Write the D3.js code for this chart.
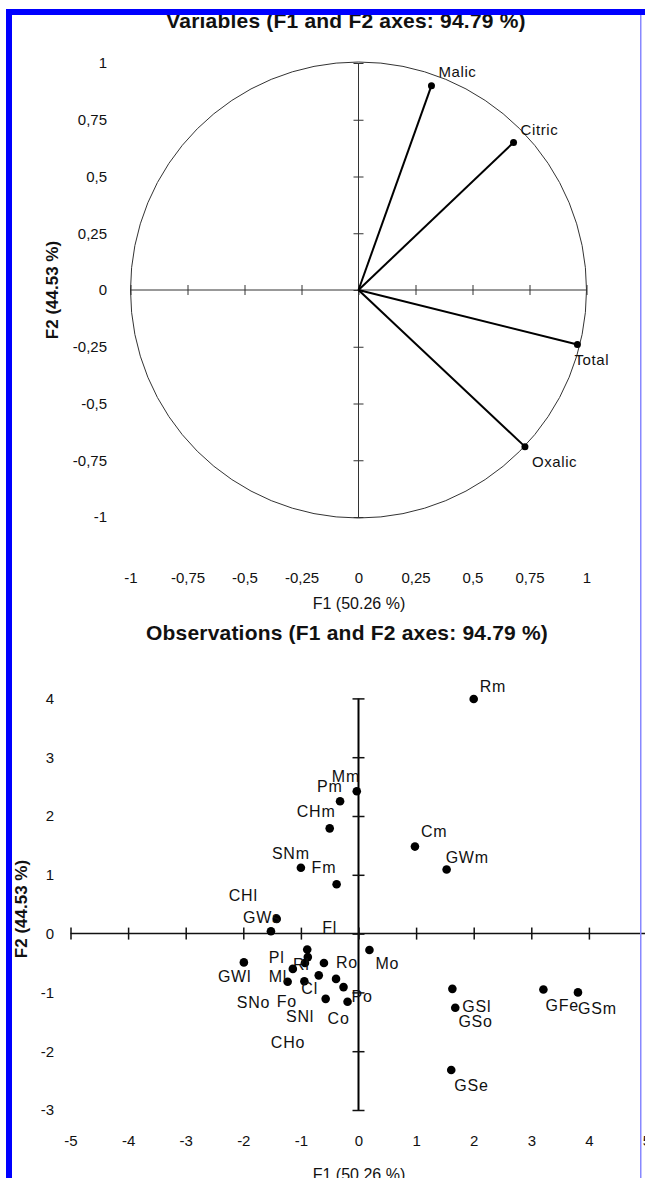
<!DOCTYPE html>
<html>
<head>
<meta charset="utf-8">
<script src="https://cdn.jsdelivr.net/npm/d3@7"></script>
<style>
  html, body { margin: 0; padding: 0; background: #fff; }
  text { font-family: "Liberation Sans", Arial, sans-serif; fill: #111; }
</style>
</head>
<body>
<div id="viz"></div>
<script>

// correlation circle (variables)
var varNames = ["Malic", "Citric", "Total", "Oxalic"];
var varF1 = [0.32, 0.68, 0.96, 0.73];
var varF2 = [0.90, 0.65, -0.24, -0.69];
var circleTicks = [-1, -0.75, -0.5, -0.25, 0, 0.25, 0.5, 0.75, 1];

// observations
var obsNames = ["Rm", "Mm", "Pm", "CHm", "Cm", "GWm", "SNm", "Fm",
    "CHl", "GWs", "Fl", "CHo", "Rl", "Pl", "Ro", "GWl", "Ml", "Cl",
    "SNo", "SNl", "Po", "Fo", "Co", "Mo",
    "GSo", "GSl", "GFe", "GSm", "GSe"];
var obsF1 = [2.00, -0.03, -0.32, -0.50, 0.98, 1.53, -1.00, -0.38,
    -1.42, -1.52, -0.89, -0.88, -0.93, -1.14, -0.60, -1.99, -1.23, -0.94,
    -0.69, -0.39, -0.26, -0.57, -0.19, 0.19,
    1.63, 1.68, 3.21, 3.81, 1.61];
var obsF2 = [3.99, 2.42, 2.25, 1.79, 1.48, 1.09, 1.12, 0.84,
    0.25, 0.04, -0.27, -0.40, -0.50, -0.60, -0.50, -0.49, -0.82, -0.81,
    -0.71, -0.77, -0.91, -1.11, -1.16, -0.28,
    -0.94, -1.26, -0.95, -1.00, -2.32];
var obsXTicks = [-5, -4, -3, -2, -1, 0, 1, 2, 3, 4, 5];
var obsYTicks = [-3, -2, -1, 0, 1, 2, 3, 4];

// label placement (pixels from the point), same order as the names
var varLabelOff = [[7, -9], [7, -7], [-3, 21], [7, 20]];
var obsLabelOff = [[6, -7], [-25, -9], [-23, -9], [-33, -11], [6, -10], [-1, -7], [-29, -9], [-25, -11],
    [-48, -18], [-28, -8], [15, -16], [-37, 91], [-12, 7], [-24, -6], [12, 5], [-26, 20], [-19, 0], [-3, 13],
    [-82, 33], [-50, 43], [8, 15], [-49, 8], [-20, 22], [6, 19],
    [6, 38], [7, 4], [2, 22], [0, 22], [3, 21]];

var W = 645, H = 1178;
var fmt = d3.formatLocale({decimal: ",", thousands: ".", grouping: [3], currency: ["", ""], minus: "-"}).format("");

var svg = d3.select("#viz").append("svg")
    .attr("width", W)
    .attr("height", H);

svg.append("rect").attr("width", W).attr("height", H).attr("fill", "#fff");

// ---------- top: variables ----------
var xv = d3.scaleLinear().domain([-1, 1]).range([130.5, 586.5]);
var yv = d3.scaleLinear().domain([-1, 1]).range([517, 63]);

var gVar = svg.append("g");

gVar.append("text")
    .attr("x", 346).attr("y", 28)
    .attr("text-anchor", "middle")
    .style("font-size", "21px").style("font-weight", "bold").style("letter-spacing", "0.2px")
    .text("Variables (F1 and F2 axes: 94.79 %)");

gVar.append("circle")
    .attr("cx", xv(0)).attr("cy", yv(0))
    .attr("r", xv(1) - xv(0))
    .attr("fill", "none").attr("stroke", "#333").attr("stroke-width", 1);

gVar.append("line")
    .attr("x1", xv(-1)).attr("x2", xv(1))
    .attr("y1", yv(0)).attr("y2", yv(0))
    .attr("stroke", "#333");
gVar.append("line")
    .attr("x1", xv(0)).attr("x2", xv(0))
    .attr("y1", yv(1)).attr("y2", yv(-1))
    .attr("stroke", "#333");

// crossing ticks on both axes
var tx = gVar.append("g").attr("transform", "translate(0," + (yv(0) - 5) + ")")
    .call(d3.axisBottom(xv).tickValues(circleTicks).tickSize(10).tickFormat(""));
var ty = gVar.append("g").attr("transform", "translate(" + (xv(0) + 5) + ",0)")
    .call(d3.axisLeft(yv).tickValues(circleTicks).tickSize(10).tickFormat(""));
[tx, ty].forEach(function(g){
    g.select(".domain").remove();
    g.selectAll("line").attr("stroke", "#333");
});

// tick labels at the plot edges
var lx = gVar.append("g").attr("transform", "translate(0,572)")
    .call(d3.axisBottom(xv).tickValues(circleTicks).tickSize(0).tickPadding(0).tickFormat(fmt));
var ly = gVar.append("g").attr("transform", "translate(107,0)")
    .call(d3.axisLeft(yv).tickValues(circleTicks).tickSize(0).tickPadding(0).tickFormat(fmt));
[lx, ly].forEach(function(g){
    g.select(".domain").remove();
    g.selectAll("text").style("font-size", "15px").style("font-family", "Liberation Sans, Arial, sans-serif").attr("fill", "#111");
});

gVar.append("text")
    .attr("x", 359).attr("y", 609)
    .attr("text-anchor", "middle")
    .style("font-size", "16px")
    .text("F1 (50.26 %)");
gVar.append("text")
    .attr("transform", "translate(58,290) rotate(-90)")
    .attr("text-anchor", "middle")
    .style("font-size", "17px").style("font-weight", "bold")
    .text("F2 (44.53 %)");

var vec = gVar.selectAll("g.vec")
    .data(varNames)
    .enter()
    .append("g").attr("class", "vec");

vec.append("line")
    .attr("x1", xv(0)).attr("y1", yv(0))
    .attr("x2", function(d, i){ return xv(varF1[i]); })
    .attr("y2", function(d, i){ return yv(varF2[i]); })
    .attr("stroke", "#000").attr("stroke-width", 2);
vec.append("circle")
    .attr("cx", function(d, i){ return xv(varF1[i]); })
    .attr("cy", function(d, i){ return yv(varF2[i]); })
    .attr("r", 3.5).attr("fill", "#000");
vec.append("text")
    .attr("x", function(d, i){ return xv(varF1[i]) + varLabelOff[i][0]; })
    .attr("y", function(d, i){ return yv(varF2[i]) + varLabelOff[i][1]; })
    .style("font-size", "15px").style("letter-spacing", "0.6px")
    .text(function(d){ return d; });

// ---------- bottom: observations ----------
var xo = d3.scaleLinear().domain([-5, 5]).range([70.5, 646.5]);
var yo = d3.scaleLinear().domain([-3, 4]).range([1110, 698.4]);

var gObs = svg.append("g");

gObs.append("text")
    .attr("x", 347).attr("y", 640)
    .attr("text-anchor", "middle")
    .style("font-size", "21px").style("font-weight", "bold").style("letter-spacing", "0.2px")
    .text("Observations (F1 and F2 axes: 94.79 %)");

gObs.append("line")
    .attr("x1", xo(-5)).attr("x2", xo(5))
    .attr("y1", yo(0)).attr("y2", yo(0))
    .attr("stroke", "#111").attr("stroke-width", 1.5);
gObs.append("line")
    .attr("x1", xo(0)).attr("x2", xo(0))
    .attr("y1", yo(4)).attr("y2", yo(-3))
    .attr("stroke", "#000").attr("stroke-width", 2);

var bx = gObs.append("g").attr("transform", "translate(0," + (yo(0) - 6) + ")")
    .call(d3.axisBottom(xo).tickValues(obsXTicks).tickSize(12).tickFormat(""));
var by = gObs.append("g").attr("transform", "translate(" + (xo(0) + 6) + ",0)")
    .call(d3.axisLeft(yo).tickValues(obsYTicks).tickSize(12).tickFormat(""));
[bx, by].forEach(function(g){
    g.select(".domain").remove();
    g.selectAll("line").attr("stroke", "#111").attr("stroke-width", 1.5);
});

var blx = gObs.append("g").attr("transform", "translate(0,1135)")
    .call(d3.axisBottom(xo).tickValues(obsXTicks).tickSize(0).tickPadding(0).tickFormat(fmt));
var bly = gObs.append("g").attr("transform", "translate(54,0)")
    .call(d3.axisLeft(yo).tickValues(obsYTicks).tickSize(0).tickPadding(0).tickFormat(fmt));
[blx, bly].forEach(function(g){
    g.select(".domain").remove();
    g.selectAll("text").style("font-size", "15px").style("font-family", "Liberation Sans, Arial, sans-serif").attr("fill", "#111");
});

gObs.append("text")
    .attr("x", 359).attr("y", 1180)
    .attr("text-anchor", "middle")
    .style("font-size", "16px")
    .text("F1 (50.26 %)");
gObs.append("text")
    .attr("transform", "translate(27,909) rotate(-90)")
    .attr("text-anchor", "middle")
    .style("font-size", "17px").style("font-weight", "bold")
    .text("F2 (44.53 %)");

var obs = gObs.selectAll("g.obs")
    .data(obsNames)
    .enter()
    .append("g").attr("class", "obs");

obs.append("circle")
    .attr("cx", function(d, i){ return xo(obsF1[i]); })
    .attr("cy", function(d, i){ return yo(obsF2[i]); })
    .attr("r", 4.3).attr("fill", "#000");
obs.append("text")
    .attr("x", function(d, i){ return xo(obsF1[i]) + obsLabelOff[i][0]; })
    .attr("y", function(d, i){ return yo(obsF2[i]) + obsLabelOff[i][1]; })
    .style("font-size", "16px").style("letter-spacing", "0.8px")
    .text(function(d){ return d; });

// ---------- frame ----------
svg.append("rect").attr("x", 6).attr("y", 9).attr("width", W).attr("height", 6).attr("fill", "#0000ff");
svg.append("rect").attr("x", 6).attr("y", 9).attr("width", 6).attr("height", H).attr("fill", "#0000ff");
svg.append("rect").attr("x", 640).attr("y", 15).attr("width", 1.5).attr("height", H).attr("fill", "#8888ff");

</script>
</body>
</html>
